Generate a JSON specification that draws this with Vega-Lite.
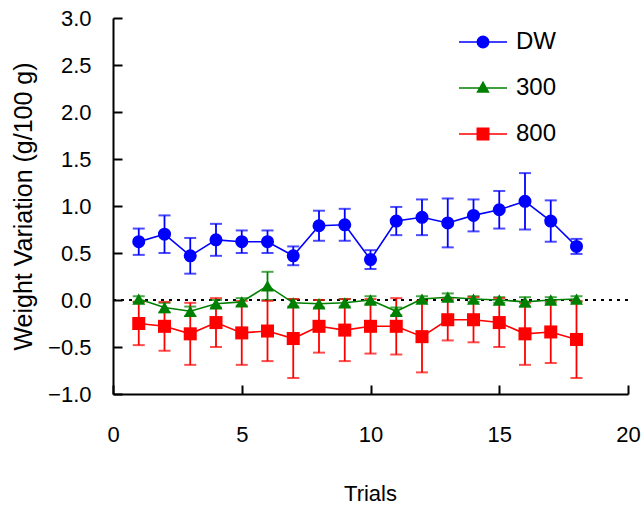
{
  "$schema": "https://vega.github.io/schema/vega-lite/v6.json",
  "width": 515,
  "height": 376,
  "autosize": "none",
  "padding": {"left": 113, "top": 18, "right": 16, "bottom": 111},
  "background": "white",
  "data": {
    "values": [
      {"trial": 1, "series": "DW", "mean": 0.62, "err": 0.14},
      {"trial": 2, "series": "DW", "mean": 0.70, "err": 0.20},
      {"trial": 3, "series": "DW", "mean": 0.47, "err": 0.19},
      {"trial": 4, "series": "DW", "mean": 0.64, "err": 0.17},
      {"trial": 5, "series": "DW", "mean": 0.62, "err": 0.12},
      {"trial": 6, "series": "DW", "mean": 0.62, "err": 0.12},
      {"trial": 7, "series": "DW", "mean": 0.47, "err": 0.10},
      {"trial": 8, "series": "DW", "mean": 0.79, "err": 0.16},
      {"trial": 9, "series": "DW", "mean": 0.80, "err": 0.17},
      {"trial": 10, "series": "DW", "mean": 0.43, "err": 0.10},
      {"trial": 11, "series": "DW", "mean": 0.84, "err": 0.15},
      {"trial": 12, "series": "DW", "mean": 0.88, "err": 0.19},
      {"trial": 13, "series": "DW", "mean": 0.82, "err": 0.26},
      {"trial": 14, "series": "DW", "mean": 0.90, "err": 0.17},
      {"trial": 15, "series": "DW", "mean": 0.96, "err": 0.20},
      {"trial": 16, "series": "DW", "mean": 1.05, "err": 0.30},
      {"trial": 17, "series": "DW", "mean": 0.84, "err": 0.22},
      {"trial": 18, "series": "DW", "mean": 0.57, "err": 0.08},
      {"trial": 1, "series": "300", "mean": 0.01, "err": 0.03},
      {"trial": 2, "series": "300", "mean": -0.08, "err": 0.05},
      {"trial": 3, "series": "300", "mean": -0.12, "err": 0.05},
      {"trial": 4, "series": "300", "mean": -0.04, "err": 0.04},
      {"trial": 5, "series": "300", "mean": -0.02, "err": 0.04},
      {"trial": 6, "series": "300", "mean": 0.15, "err": 0.15},
      {"trial": 7, "series": "300", "mean": -0.03, "err": 0.04},
      {"trial": 8, "series": "300", "mean": -0.04, "err": 0.04},
      {"trial": 9, "series": "300", "mean": -0.03, "err": 0.04},
      {"trial": 10, "series": "300", "mean": 0.0, "err": 0.04},
      {"trial": 11, "series": "300", "mean": -0.12, "err": 0.04},
      {"trial": 12, "series": "300", "mean": 0.01, "err": 0.03},
      {"trial": 13, "series": "300", "mean": 0.03, "err": 0.04},
      {"trial": 14, "series": "300", "mean": 0.01, "err": 0.03},
      {"trial": 15, "series": "300", "mean": 0.0, "err": 0.03},
      {"trial": 16, "series": "300", "mean": -0.02, "err": 0.05},
      {"trial": 17, "series": "300", "mean": 0.0, "err": 0.03},
      {"trial": 18, "series": "300", "mean": 0.01, "err": 0.03},
      {"trial": 1, "series": "800", "mean": -0.25, "err": 0.23},
      {"trial": 2, "series": "800", "mean": -0.28, "err": 0.26},
      {"trial": 3, "series": "800", "mean": -0.36, "err": 0.33},
      {"trial": 4, "series": "800", "mean": -0.24, "err": 0.26},
      {"trial": 5, "series": "800", "mean": -0.35, "err": 0.34},
      {"trial": 6, "series": "800", "mean": -0.33, "err": 0.32},
      {"trial": 7, "series": "800", "mean": -0.41, "err": 0.42},
      {"trial": 8, "series": "800", "mean": -0.28, "err": 0.28},
      {"trial": 9, "series": "800", "mean": -0.32, "err": 0.33},
      {"trial": 10, "series": "800", "mean": -0.28, "err": 0.29},
      {"trial": 11, "series": "800", "mean": -0.28, "err": 0.30},
      {"trial": 12, "series": "800", "mean": -0.39, "err": 0.38},
      {"trial": 13, "series": "800", "mean": -0.21, "err": 0.22},
      {"trial": 14, "series": "800", "mean": -0.21, "err": 0.24},
      {"trial": 15, "series": "800", "mean": -0.24, "err": 0.26},
      {"trial": 16, "series": "800", "mean": -0.36, "err": 0.33},
      {"trial": 17, "series": "800", "mean": -0.34, "err": 0.33},
      {"trial": 18, "series": "800", "mean": -0.42, "err": 0.41}
    ]
  },
  "encoding": {
    "x": {
      "field": "trial",
      "type": "quantitative",
      "title": "Trials",
      "scale": {"domain": [0, 20], "nice": false, "zero": false},
      "axis": {
        "values": [0, 5, 10, 15, 20],
        "labelPadding": 39,
        "titleX": 257,
        "titleY": 106,
        "titleBaseline": "alphabetic",
        "titleFontSize": 22
      }
    },
    "y": {
      "field": "mean",
      "type": "quantitative",
      "title": "Weight Variation (g/100 g)",
      "scale": {"domain": [-1, 3], "nice": false, "zero": false},
      "axis": {
        "values": [-1, -0.5, 0, 0.5, 1, 1.5, 2, 2.5, 3],
        "format": ".1f",
        "labelPadding": 31,
        "titleX": -82,
        "titleY": 188,
        "titleAngle": -90,
        "titleAlign": "center",
        "titleBaseline": "alphabetic",
        "titleFontSize": 25
      }
    },
    "color": {
      "field": "series",
      "type": "nominal",
      "scale": {"domain": ["DW", "300", "800"], "range": ["#0000ff", "#008000", "#ff0000"]},
      "legend": {
        "orient": "none",
        "legendX": 346,
        "legendY": 0,
        "title": null,
        "padding": 0,
        "labelFont": "Liberation Sans",
        "labelFontSize": 24,
        "labelColor": "black",
        "labelOffset": 9,
        "symbolSize": 2304,
        "symbolStrokeWidth": 0,
        "symbolOpacity": 1,
        "rowPadding": 10
      }
    }
  },
  "layer": [
    {
      "mark": {"type": "rule", "color": "black", "strokeWidth": 2, "strokeDash": [3, 5]},
      "encoding": {"y": {"datum": 0}, "x": null, "color": null}
    },
    {
      "mark": {
        "type": "errorbar",
        "ticks": {"size": 12, "thickness": 2},
        "rule": {"strokeWidth": 1.8}
      },
      "encoding": {"yError": {"field": "err"}}
    },
    {
      "mark": {"type": "line", "strokeWidth": 1.6}
    },
    {
      "transform": [{"filter": "datum.series === 'DW'"}],
      "mark": {"type": "point", "filled": true, "size": 170, "opacity": 1, "shape": "circle"}
    },
    {
      "transform": [{"filter": "datum.series === '300'"}],
      "mark": {"type": "point", "filled": true, "size": 170, "opacity": 1, "shape": "triangle-up"}
    },
    {
      "transform": [{"filter": "datum.series === '800'"}],
      "mark": {"type": "point", "filled": true, "size": 170, "opacity": 1, "shape": "square"}
    },
    {
      "transform": [{"filter": "datum.trial > 100"}],
      "mark": {"type": "point", "filled": true, "opacity": 1},
      "encoding": {
        "shape": {
          "field": "series",
          "type": "nominal",
          "scale": {
            "domain": ["DW", "300", "800"],
            "range": [
              "M-1,-0.035H1V0.035H-1Z M0.27,0L0.249,0.103L0.191,0.191L0.103,0.249L0,0.27L-0.103,0.249L-0.191,0.191L-0.249,0.103L-0.27,0L-0.249,-0.103L-0.191,-0.191L-0.103,-0.249L0,-0.27L0.103,-0.249L0.191,-0.191L0.249,-0.103Z",
              "M-1,-0.035H1V0.035H-1Z M0,-0.3L0.28,0.2L-0.28,0.2Z",
              "M-1,-0.035H1V0.035H-1Z M-0.27,-0.27H0.27V0.27H-0.27Z"
            ]
          }
        }
      }
    }
  ],
  "config": {
    "view": {"stroke": null},
    "font": "Liberation Sans",
    "axis": {
      "grid": false,
      "domainColor": "black",
      "domainWidth": 2,
      "tickColor": "black",
      "tickWidth": 2,
      "tickSize": -9,
      "labelFont": "Liberation Sans",
      "labelFontSize": 22,
      "labelColor": "black",
      "labelFlush": false,
      "labelOverlap": false,
      "labelBound": false,
      "titleFont": "Liberation Sans",
      "titleFontWeight": "normal",
      "titleColor": "black"
    }
  }
}
